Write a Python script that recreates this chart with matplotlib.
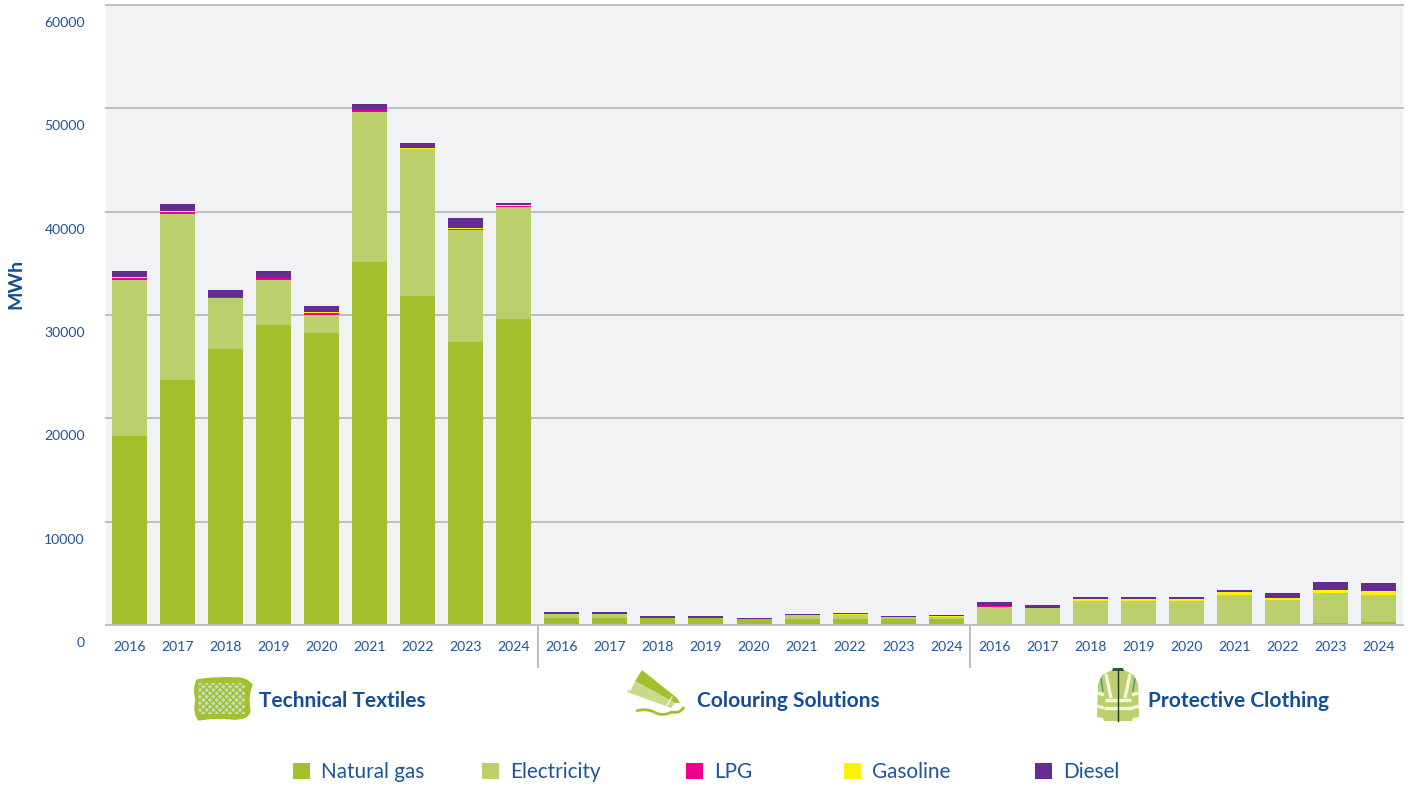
import matplotlib
matplotlib.use("Agg")
import matplotlib.pyplot as plt
import numpy as np
from matplotlib.patches import Patch, Polygon, PathPatch, Rectangle
from matplotlib.path import Path
from matplotlib.transforms import ScaledTranslation

years = [2016, 2017, 2018, 2019, 2020, 2021, 2022, 2023, 2024]
segments = ["Technical Textiles", "Colouring Solutions", "Protective Clothing"]
fuels = ["Natural gas", "Electricity", "LPG", "Gasoline", "Diesel"]

natural_gas = [18290, 23710, 26710, 29030, 28260, 35130, 31840, 27390, 29610,
               680, 680, 680, 680, 550, 550, 550, 580, 580,
               20, 20, 100, 100, 100, 100, 100, 190, 290]
electricity = [15100, 16060, 4940, 4350, 1740, 14520, 14230, 10840, 10840,
               390, 390, 30, 30, 30, 420, 420, 190, 190,
               1770, 1580, 2230, 2230, 2230, 2810, 2320, 2900, 2610]
lpg = [190, 190, 100, 190, 190, 190, 0, 100, 100,
       0, 0, 0, 0, 0, 0, 0, 0, 0,
       15, 15, 0, 0, 0, 0, 15, 0, 0]
gasoline = [100, 100, 0, 0, 100, 0, 100, 100, 100,
            0, 0, 0, 0, 0, 0, 100, 0, 100,
            50, 50, 190, 190, 190, 290, 160, 290, 390]
diesel = [580, 680, 680, 680, 580, 580, 480, 970, 190,
          190, 190, 190, 190, 100, 100, 100, 100, 100,
          390, 290, 190, 190, 190, 190, 480, 770, 770]

colors = ["#A2C02E", "#BBD06C", "#EC008C", "#FFF200", "#662D91"]
legend_x = [293, 482, 686, 844, 1035]
yticks = [0, 10000, 20000, 30000, 40000, 50000, 60000]

W, H = 1409, 787
TXT = "#1F5497"
HEAD = "#134E96"
GRID = "#BEBFC1"
plt.rcParams["font.family"] = ["Lato", "DejaVu Sans"]
PX = 0.72

fig = plt.figure(figsize=(W / 100, H / 100), dpi=100, facecolor="white")
ax = fig.add_axes([106 / W, 1 - 625 / H, 1297 / W, 620 / H], facecolor="#F1F2F4")

x = np.arange(len(natural_gas))
bottom = np.zeros(len(x))
for vals, c, name in zip([natural_gas, electricity, lpg, gasoline, diesel], colors, fuels):
    ax.bar(x, vals, width=35 / 48.04, bottom=bottom, color=c, linewidth=0, label=name, zorder=3)
    bottom += np.array(vals)

ax.set_xlim(-0.49, len(x) - 0.49)
ax.set_ylim(0, 60000)
for s in ["top", "left", "right"]:
    ax.spines[s].set_visible(False)
ax.spines["bottom"].set_color(GRID)
ax.spines["bottom"].set_linewidth(2 * PX)
ax.spines["bottom"].set_zorder(4)

ax.set_yticks(yticks)
ax.set_yticklabels([str(v) for v in yticks], fontsize=14 * PX, color=TXT)
ax.tick_params(axis="y", length=0, pad=21 * PX)
ax.set_xticks(x)
ax.set_xticklabels([str(y) for y in years] * 3, fontsize=14 * PX, color=TXT)
ax.tick_params(axis="x", length=0, pad=16 * PX)
offset = ScaledTranslation(0, -17 / 100, fig.dpi_scale_trans)
for lab in ax.get_yticklabels():
    lab.set_transform(lab.get_transform() + offset)
for v in yticks[1:]:
    ax.axhline(v, color=GRID, lw=2 * PX, zorder=1, clip_on=False)

fig.text(15.5 / W, 1 - 284 / H, "MWh", rotation=90, ha="center", va="center",
         fontsize=19.5 * PX, fontweight="bold", color=HEAD)

# full-figure overlay in pixel coordinates for separators and pictograms
ov = fig.add_axes([0, 0, 1, 1], facecolor="none")
ov.set_xlim(0, W)
ov.set_ylim(H, 0)
ov.axis("off")

for xp in [538, 970]:
    ov.plot([xp, xp], [626, 668], color=GRID, lw=2 * PX, solid_capstyle="butt")

for name, xp in zip(segments, [342, 788, 1238]):
    ov.text(xp, 701, name, ha="center", va="center", fontsize=20.9 * PX,
            fontweight="bold", color=HEAD)

# textile pictogram
blob = Path(
    [(197, 680), (215, 677), (235, 678), (246, 677), (252, 685), (247, 697), (250, 710),
     (249, 720), (232, 719), (215, 717), (199, 720), (193, 714), (196, 700), (193, 688), (197, 680)],
    [Path.MOVETO] + [Path.CURVE3] * 14)
ov.add_patch(PathPatch(blob, fc="#A2C02E", ec="#A2C02E", lw=1))
plt.rcParams["hatch.linewidth"] = 1.1
ov.add_patch(Rectangle((198, 683), 47, 31, fc="#C5DEC6", ec="#A2C02E", lw=0, hatch="xxxxx"))

# tube pictogram
ov.add_patch(Polygon([(642, 670), (677, 698), (680, 703), (675, 703), (635, 681)],
                     fc="#A2C02E", ec="none"))
ov.add_patch(Polygon([(635, 681), (675, 703), (671, 708), (627, 692)],
                     fc="#C8DA8A", ec="none"))
ov.plot([638, 630], [674, 690], color="white", lw=1)
ov.plot([672, 666], [697, 707], color="white", lw=0.8)
squig = Path([(636, 711), (646, 708), (654, 712), (662, 717), (672, 712), (680, 714), (684, 707)],
             [Path.MOVETO] + [Path.CURVE3] * 6)
ov.add_patch(PathPatch(squig, fc="none", ec="#A2C02E", lw=2))

# jacket pictogram
ov.add_patch(Polygon([(1112, 670), (1124, 670), (1134, 675), (1138, 684), (1139, 717),
                      (1133, 718), (1132, 721), (1104, 721), (1103, 718), (1097, 717),
                      (1098, 684), (1102, 675)], fc="#BBD06C", ec="none"))
for seg in [[(1106, 674), (1111, 698)], [(1130, 674), (1125, 698)],
            [(1098, 693), (1104, 695)], [(1138, 693), (1132, 695)],
            [(1105, 700), (1131, 700)], [(1097, 706), (1104, 708)],
            [(1139, 706), (1132, 708)], [(1104, 708), (1132, 708)]]:
    ov.plot(*zip(*seg), color="#F2F5E2", lw=2.4, solid_capstyle="butt")
ov.plot([1118, 1118], [670, 721], color="#1E3A22", lw=1)
ov.add_patch(Polygon([(1112, 671), (1113, 668), (1123, 668), (1124, 671)], fc="#2F5B3A", ec="none"))
ov.plot([1101, 1103], [679, 691], color="#3F9A80", lw=1)
ov.plot([1135, 1133], [679, 691], color="#3F9A80", lw=1)

# one legend per fuel because the reference spaces the keys unevenly
for name, c, xp in zip(fuels, colors, legend_x):
    fig.legend(handles=[Patch(fc=c, ec="none", label=name)], loc="center left",
               bbox_to_anchor=(xp / W, 1 - 772.5 / H), frameon=False,
               fontsize=20.8 * PX, labelcolor=TXT, borderpad=0, borderaxespad=0,
               handlelength=17 / 20.8, handleheight=17 / 20.8, handletextpad=11 / 20.8)

fig.savefig("out.png", dpi=100)
